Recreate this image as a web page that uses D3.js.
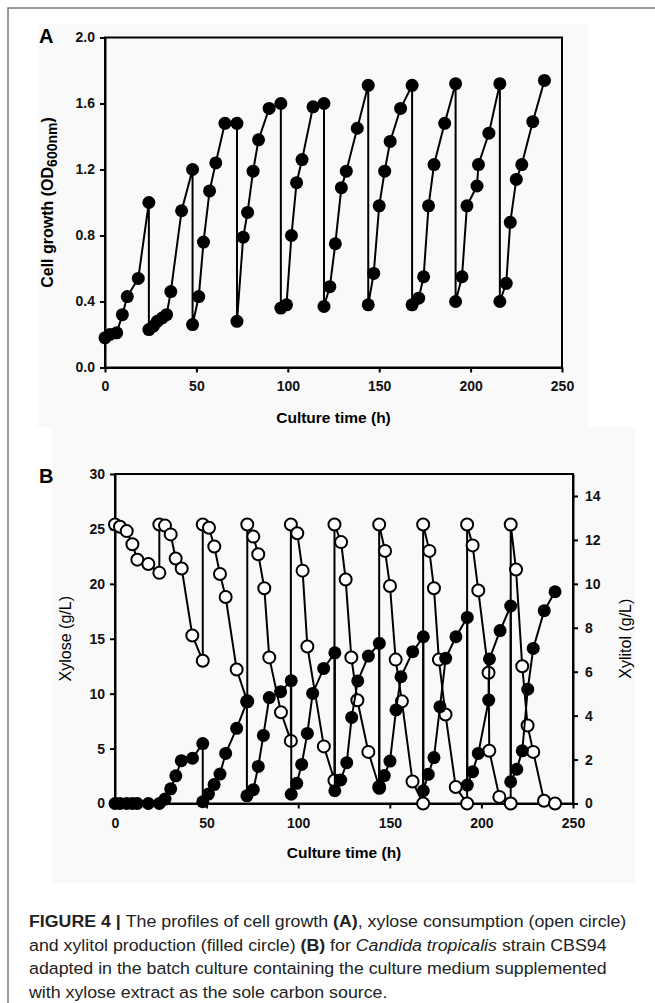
<!DOCTYPE html>
<html>
<head>
<meta charset="utf-8">
<script src="https://cdn.jsdelivr.net/npm/d3@7"></script>
<style>
  body { margin: 0; background: #fff; }
  text { font-family: "Liberation Sans", Arial, sans-serif; }
</style>
</head>
<body>
<script>
// ---- panel A : cell growth (OD600) ----
const timeA = [0, 2.7, 6.4, 9.5, 12.2, 18.2, 24,
  24, 26.4, 28.6, 31.3, 33.7, 36, 41.9, 47.9,
  47.9, 51.3, 53.9, 57.2, 60.6, 65.6, 72.2,
  72.2, 75.6, 78, 81, 84, 89.8, 96.2,
  96.2, 99.3, 102, 104.8, 107.8, 113.8, 119.8,
  119.8, 123, 126, 129.3, 132, 138, 144,
  144, 147, 150, 153, 156, 161.7, 168,
  168, 171.6, 174.3, 177, 180, 185.8, 191.8,
  191.8, 195.3, 198, 203.5, 204.3, 210, 216,
  216, 219.5, 221.7, 225, 228, 234, 240.4];
const odA = [0.18, 0.20, 0.21, 0.32, 0.43, 0.54, 1.00,
  0.23, 0.25, 0.28, 0.30, 0.32, 0.46, 0.95, 1.20,
  0.26, 0.43, 0.76, 1.07, 1.24, 1.48, 1.48,
  0.28, 0.79, 0.94, 1.19, 1.38, 1.57, 1.60,
  0.36, 0.38, 0.80, 1.12, 1.26, 1.58, 1.60,
  0.37, 0.49, 0.75, 1.09, 1.19, 1.45, 1.71,
  0.38, 0.57, 0.98, 1.19, 1.37, 1.57, 1.71,
  0.38, 0.42, 0.55, 0.98, 1.23, 1.48, 1.72,
  0.40, 0.55, 0.98, 1.10, 1.23, 1.42, 1.72,
  0.40, 0.51, 0.88, 1.14, 1.23, 1.49, 1.74];

// ---- panel B : xylose (open) / xylitol (filled) ----
const timeXylose = [0, 2.7, 6.4, 9.5, 12.2, 18.2, 24.2,
  24.2, 27.3, 30.4, 33.1, 36.4, 42.2, 47.9,
  47.9, 51.3, 54.2, 57.3, 60.4, 66.4, 72.2,
  72.2, 75.5, 78.2, 81.5, 84.2, 90.6, 96,
  96, 99.5, 102.4, 105, 114, 119.8,
  119.8, 123.4, 125.9, 129, 132.3, 138.3, 144.2,
  144.2, 147.4, 150.1, 153.2, 156.6, 162.4, 168.2,
  168.2, 171.6, 174.1, 176.8, 180.4, 186, 192.2,
  192.2, 195.2, 198.3, 203.9, 204.3, 209.8, 216,
  216, 218.9, 222.3, 225.2, 228.3, 234.2, 240.2];
const xylose = [25.4, 25.2, 24.8, 23.6, 22.2, 21.8, 21.0,
  25.4, 25.3, 24.5, 22.3, 21.4, 15.3, 13.0,
  25.4, 25.1, 23.4, 20.9, 18.8, 12.2, 9.3,
  25.4, 24.3, 22.7, 19.6, 13.3, 8.3, 5.7,
  25.4, 24.6, 21.2, 14.3, 5.2, 2.1,
  25.4, 23.8, 20.4, 13.3, 9.4, 4.7, 1.5,
  25.4, 23.0, 19.8, 13.1, 9.3, 2.0, 0,
  25.4, 23.0, 19.6, 13.1, 8.1, 1.5, 0,
  25.4, 23.5, 19.4, 11.9, 4.8, 0.6, 0,
  25.4, 21.3, 12.5, 7.1, 4.7, 0.25, 0];

const timeXylitol = [0, 2.7, 6.4, 9.5, 12.2, 18.2, 24.2, 27.3, 30.4, 33.2, 36.2, 42.3, 47.9,
  47.9, 51, 54.1, 57.3, 60.4, 66.4, 72,
  72, 75.5, 78.2, 81, 84.2, 90.4, 96.2,
  96.2, 99.2, 101.9, 105, 107.9, 113.9, 120,
  120, 123.2, 126.5, 129.2, 132.5, 138.3, 144.3,
  144.3, 147, 150.1, 153.4, 156.1, 162.5, 168.3,
  168.3, 171, 174.1, 177.4, 180.5, 186.1, 192.3,
  192.3, 195.2, 198.3, 204, 204.4, 210.2, 216,
  216, 219.3, 222.3, 225.3, 228.3, 234.3, 240.2];
const xylitol = [0, 0, 0, 0, 0, 0, 0, 0.2, 0.67, 1.26, 1.95, 2.06, 2.73,
  0.08, 0.43, 0.86, 1.34, 2.28, 3.42, 4.63,
  0.35, 0.63, 1.69, 3.1, 4.82, 5.09, 5.59,
  0.42, 0.92, 1.78, 3.19, 5.01, 6.15, 6.86,
  0.58, 1.07, 1.86, 3.92, 5.58, 6.71, 7.29,
  0.69, 1.27, 1.93, 4.26, 5.77, 6.91, 7.59,
  0.58, 1.33, 2.09, 4.41, 6.61, 7.59, 8.47,
  0.84, 1.45, 2.28, 4.71, 6.58, 7.87, 8.99,
  0.99, 1.56, 2.40, 5.20, 7.06, 8.78, 9.64];

const timeTicks = [0, 50, 100, 150, 200, 250];
const odTicks = [0, 0.4, 0.8, 1.2, 1.6, 2.0];
const xyloseTicks = [0, 5, 10, 15, 20, 25, 30];
const xylitolTicks = [0, 2, 4, 6, 8, 10, 12, 14];

const W = 655, H = 1003;
const svg = d3.select("body").append("svg")
  .attr("width", W).attr("height", H);

// figure frame (only top and left edge visible) and light panel backgrounds
svg.append("rect").attr("x", 38).attr("y", 24).attr("width", 550).attr("height", 403).attr("fill", "#f9f9f9");
svg.append("rect").attr("x", 52).attr("y", 427).attr("width", 583).attr("height", 456).attr("fill", "#f9f9f9");
svg.append("path").attr("d", `M8,${H} V8 H${W}`).attr("fill", "none").attr("stroke", "#7a7a7a").attr("stroke-width", 1.5);

const styleAxis = g => {
  g.attr("font-size", 14).attr("font-family", null).attr("font-weight", "bold");
  g.selectAll("path, line").attr("stroke", "#000").attr("stroke-width", 2);
  g.selectAll("text").attr("fill", "#111");
};

// ---------- panel A ----------
const xA = d3.scaleLinear().domain([0, 250]).range([105, 562]);
const yA = d3.scaleLinear().domain([0, 2]).range([367.5, 37.5]);
const gA = svg.append("g");

gA.append("rect").attr("x", xA(0)).attr("y", yA(2)).attr("width", xA(250) - xA(0)).attr("height", yA(0) - yA(2))
  .attr("fill", "none").attr("stroke", "#000").attr("stroke-width", 2);

gA.append("g").attr("transform", `translate(0,${yA(0)})`)
  .call(d3.axisBottom(xA).tickValues(timeTicks).tickSize(5).tickSizeOuter(0).tickPadding(9))
  .call(styleAxis);
gA.append("g").attr("transform", `translate(${xA(0)},0)`)
  .call(d3.axisLeft(yA).tickValues(odTicks).tickFormat(d3.format(".1f")).tickSize(5).tickSizeOuter(0).tickPadding(5))
  .call(styleAxis);

const ptsA = d3.zip(timeA, odA);
gA.append("path").datum(ptsA)
  .attr("d", d3.line().x(d => xA(d[0])).y(d => yA(d[1])))
  .attr("fill", "none").attr("stroke", "#000").attr("stroke-width", 2);
gA.append("g").selectAll("circle").data(ptsA).join("circle")
  .attr("cx", d => xA(d[0])).attr("cy", d => yA(d[1])).attr("r", 6.5).attr("fill", "#000");

gA.append("text").attr("x", 39).attr("y", 43).attr("font-size", 20).attr("font-weight", "bold").text("A");
gA.append("text").attr("x", 333.5).attr("y", 422.5).attr("text-anchor", "middle")
  .attr("font-size", 15.5).attr("font-weight", "bold").text("Culture time (h)");
const yLabA = gA.append("text").attr("transform", `translate(53,202.5) rotate(-90)`)
  .attr("text-anchor", "middle").attr("font-size", 16).attr("font-weight", "bold");
yLabA.append("tspan").text("Cell growth (OD");
yLabA.append("tspan").attr("dy", 4).attr("font-size", 14).text("600nm");
yLabA.append("tspan").attr("dy", -4).text(")");

// ---------- panel B ----------
const xB = d3.scaleLinear().domain([0, 250]).range([115, 573]);
const yL = d3.scaleLinear().domain([0, 30]).range([803.5, 474]);
const yR = d3.scaleLinear().domain([0, 15]).range([803.5, 474]);
const gB = svg.append("g");

gB.append("rect").attr("x", xB(0)).attr("y", yL(30)).attr("width", xB(250) - xB(0)).attr("height", yL(0) - yL(30))
  .attr("fill", "none").attr("stroke", "#000").attr("stroke-width", 2);

gB.append("g").attr("transform", `translate(0,${yL(0)})`)
  .call(d3.axisBottom(xB).tickValues(timeTicks).tickSize(5).tickSizeOuter(0).tickPadding(10))
  .call(styleAxis);
gB.append("g").attr("transform", `translate(${xB(0)},0)`)
  .call(d3.axisLeft(yL).tickValues(xyloseTicks).tickSize(5).tickSizeOuter(0).tickPadding(5))
  .call(styleAxis);
gB.append("g").attr("transform", `translate(${xB(250)},0)`)
  .call(d3.axisRight(yR).tickValues(xylitolTicks).tickSize(5).tickSizeOuter(0).tickPadding(7))
  .call(styleAxis);

const ptsXylose = d3.zip(timeXylose, xylose);
const ptsXylitol = d3.zip(timeXylitol, xylitol);

gB.append("path").datum(ptsXylose)
  .attr("d", d3.line().x(d => xB(d[0])).y(d => yL(d[1])))
  .attr("fill", "none").attr("stroke", "#000").attr("stroke-width", 2);
gB.append("g").selectAll("circle").data(ptsXylose).join("circle")
  .attr("cx", d => xB(d[0])).attr("cy", d => yL(d[1])).attr("r", 6)
  .attr("fill", "#fff").attr("stroke", "#000").attr("stroke-width", 2);

gB.append("path").datum(ptsXylitol)
  .attr("d", d3.line().x(d => xB(d[0])).y(d => yR(d[1])))
  .attr("fill", "none").attr("stroke", "#000").attr("stroke-width", 2);
gB.append("g").selectAll("circle").data(ptsXylitol).join("circle")
  .attr("cx", d => xB(d[0])).attr("cy", d => yR(d[1])).attr("r", 6.5).attr("fill", "#000");

gB.append("text").attr("x", 39).attr("y", 483).attr("font-size", 20).attr("font-weight", "bold").text("B");
gB.append("text").attr("x", 344).attr("y", 858).attr("text-anchor", "middle")
  .attr("font-size", 15.5).attr("font-weight", "bold").text("Culture time (h)");
gB.append("text").attr("transform", `translate(71,638.7) rotate(-90)`)
  .attr("text-anchor", "middle").attr("font-size", 16).text("Xylose (g/L)");
gB.append("text").attr("transform", `translate(631,638.7) rotate(-90)`)
  .attr("text-anchor", "middle").attr("font-size", 16).text("Xylitol (g/L)");

// ---------- caption ----------
const captionLines = [
  [["FIGURE 4 | ", "b"], ["The profiles of cell growth ", ""], ["(A)", "b"], [", xylose consumption (open circle)", ""]],
  [["and xylitol production (filled circle) ", ""], ["(B)", "b"], [" for ", ""], ["Candida tropicalis", "i"], [" strain CBS94", ""]],
  [["adapted in the batch culture containing the culture medium supplemented", ""]],
  [["with xylose extract as the sole carbon source.", ""]]
];
const capG = svg.append("g");
const capTexts = captionLines.map((segs, i) => {
  const t = capG.append("text").attr("x", 0).attr("y", 0)
    .attr("font-size", 17).attr("fill", "#222");
  segs.forEach(([s, st]) => {
    t.append("tspan").attr("font-weight", st === "b" ? "bold" : null)
      .attr("font-style", st === "i" ? "italic" : null).text(s);
  });
  return t;
});
const k = 598 / capTexts[0].node().getComputedTextLength();
capTexts.forEach((t, i) => t.attr("transform", `translate(29,${927 + i * 23.5}) scale(${k},1)`));
</script>
</body>
</html>
